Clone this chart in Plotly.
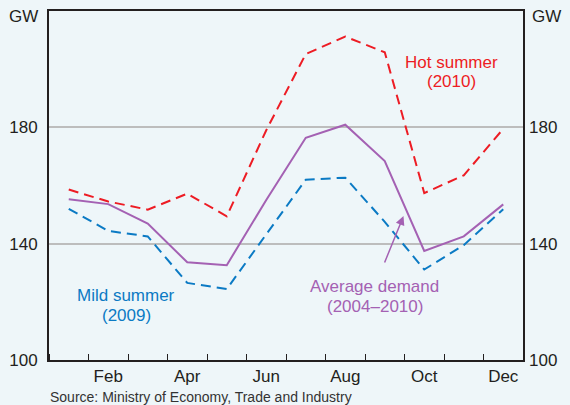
import plotly.graph_objects as go

months = ["Jan", "Feb", "Mar", "Apr", "May", "Jun", "Jul", "Aug", "Sep", "Oct", "Nov", "Dec"]
hot_2010 = [158.6, 154.5, 151.7, 157.2, 149.4, 179.0, 205.2, 211.2, 205.8, 157.4, 163.5, 179.5]
avg_2004_2010 = [155.3, 153.6, 146.9, 133.6, 132.6, 155.0, 176.4, 180.9, 168.4, 137.5, 142.5, 153.5]
mild_2009 = [152.0, 144.4, 142.5, 126.5, 124.4, 143.2, 162.0, 162.7, 147.5, 131.1, 139.5, 151.8]
y_ticks = [100, 140, 180]

x = list(range(1, len(months) + 1))

RED = "#ED1C24"
BLUE = "#0B7AC4"
PURPLE = "#A461B3"
BG = "#EEF6F9"
INK = "#231F20"
FONT = "Liberation Sans, Arial, sans-serif"

W, H = 570, 405
L, R, T, B = 49, 47, 11, 45
X0, X1 = 0.5, 12.5
Y0, Y1 = 100, 220


def px_x(p):
    return X0 + (p - L) / (W - L - R) * (X1 - X0)


def px_y(p):
    return Y1 - (p - T) / (H - T - B) * (Y1 - Y0)


fig = go.Figure()
fig.add_trace(go.Scatter(x=x, y=hot_2010, mode="lines", name="Hot summer (2010)",
                         line=dict(color=RED, width=2, dash="10px,6px")))
fig.add_trace(go.Scatter(x=x, y=mild_2009, mode="lines", name="Mild summer (2009)",
                         line=dict(color=BLUE, width=2, dash="10px,6px")))
fig.add_trace(go.Scatter(x=x, y=avg_2004_2010, mode="lines", name="Average demand (2004–2010)",
                         line=dict(color=PURPLE, width=2)))
# invisible trace to bring up the right axis
fig.add_trace(go.Scatter(x=x, y=avg_2004_2010, yaxis="y2", mode="lines",
                         line=dict(width=0), hoverinfo="skip", showlegend=False, opacity=0))

fig.update_layout(
    width=W, height=H,
    margin=dict(l=L, r=R, t=T, b=B, autoexpand=False),
    paper_bgcolor=BG, plot_bgcolor=BG,
    showlegend=False,
    font=dict(family=FONT, size=17, color=INK),
    xaxis=dict(
        range=[X0, X1],
        tickvals=x[1::2], ticktext=months[1::2],
        ticks="", showgrid=False, zeroline=False,
        showline=True, linecolor=INK, linewidth=2, mirror=True,
        minor=dict(tick0=0.5, dtick=1, ticks="inside", ticklen=6, tickcolor=INK, tickwidth=1, showgrid=False),
        tickfont=dict(size=17, color=INK),
        ticklabelstandoff=0,
    ),
    yaxis=dict(
        range=[Y0, Y1], tickvals=y_ticks,
        ticks="", showgrid=True, gridcolor="#BDBDBD", gridwidth=1.5, zeroline=False,
        showline=True, linecolor=INK, linewidth=2, mirror=True,
        tickfont=dict(size=17, color=INK), ticklabelstandoff=6,
    ),
    yaxis2=dict(
        range=[Y0, Y1], tickvals=y_ticks, overlaying="y", side="right",
        ticks="", showgrid=False, zeroline=False, showline=False,
        tickfont=dict(size=17, color=INK), ticklabelstandoff=5,
    ),
)

ann = []
# GW unit labels
ann.append(dict(xref="paper", yref="paper", x=-9 / (W - L - R), y=1 - 6 / (H - T - B),
                xanchor="right", yanchor="middle", text="GW", showarrow=False,
                font=dict(size=17, color=INK)))
ann.append(dict(xref="paper", yref="paper", x=1 + 7 / (W - L - R), y=1 - 6 / (H - T - B),
                xanchor="left", yanchor="middle", text="GW", showarrow=False,
                font=dict(size=17, color=INK)))
# series labels
for txt, cx, cy, col in [
    ("Hot summer", 451, 62, RED), ("(2010)", 451, 81, RED),
    ("Mild summer", 126, 295, BLUE), ("(2009)", 126, 315, BLUE),
    ("Average demand", 374.5, 286, PURPLE), ("(2004–2010)", 374.5, 306, PURPLE),
]:
    ann.append(dict(x=px_x(cx), y=px_y(cy), xref="x", yref="y", text=txt, showarrow=False,
                    xanchor="center", yanchor="middle", font=dict(size=17, color=col)))
# arrow
ann.append(dict(x=px_x(403.5), y=px_y(216), ax=px_x(384), ay=px_y(264), axref="x", ayref="y",
                xref="x", yref="y", text="", showarrow=True, arrowhead=2, arrowsize=1.2,
                arrowwidth=1.5, arrowcolor=PURPLE))
# source
ann.append(dict(xref="paper", yref="paper", x=-1 / (W - L - R), y=-(397 - (H - B)) / (H - T - B),
                xanchor="left", yanchor="middle", text="Source: Ministry of Economy, Trade and Industry",
                showarrow=False, font=dict(size=14, color="#333333")))
fig.update_layout(annotations=ann)

fig.write_html("out.html", config={"displayModeBar": False},
               post_script="document.body.style.margin='0';document.body.style.padding='0';")
